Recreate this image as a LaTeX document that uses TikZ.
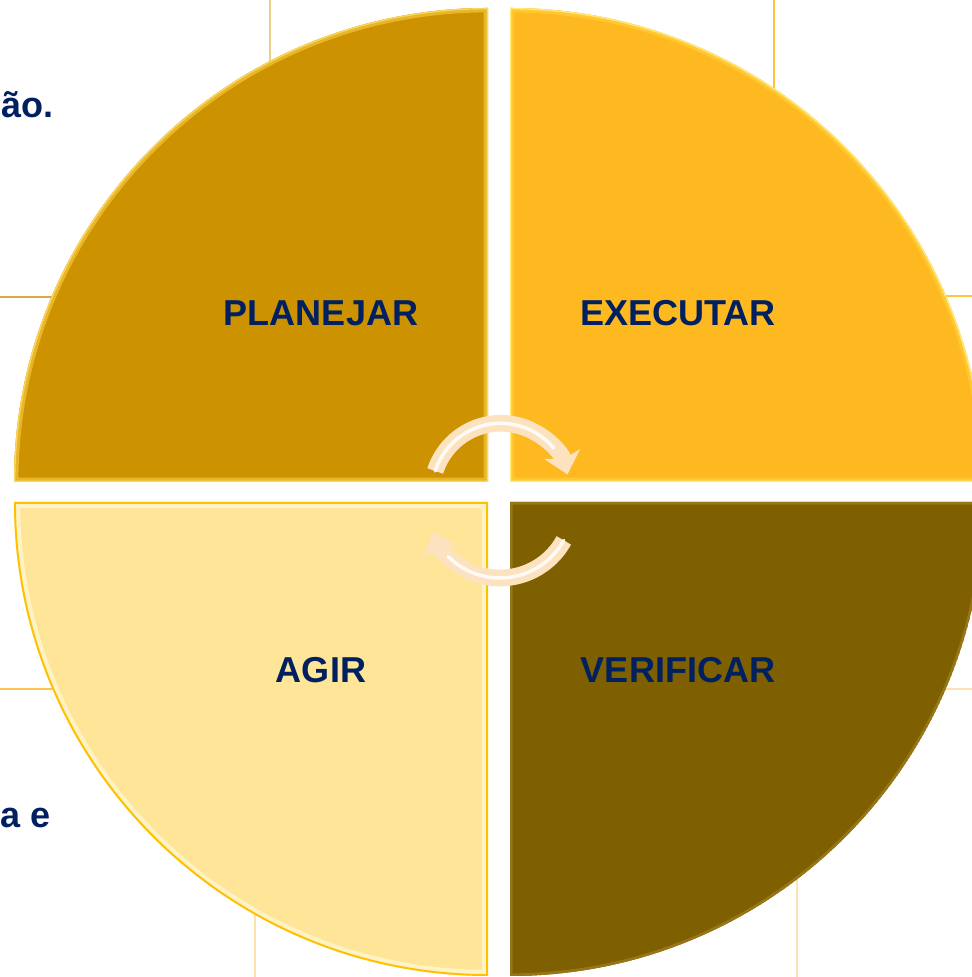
\documentclass[tikz,border=0pt]{standalone}
\usepackage{fontspec}
\setmainfont{Liberation Sans}
\usetikzlibrary{arrows.meta}
\definecolor{navy}{RGB}{0,32,96}
\definecolor{gold}{RGB}{204,146,0}
\definecolor{amber}{RGB}{253,185,31}
\definecolor{cream}{RGB}{254,229,152}
\definecolor{olive}{RGB}{127,96,0}
\definecolor{arrowc}{RGB}{252,226,190}
\tikzstyle{lbl}=[inner sep=0pt,font=\fontsize{20.5}{24}\selectfont\bfseries,text=navy]
\tikzstyle{tline}=[line width=1.1pt]
\tikzstyle{cyc}=[-{Stealth[length=12pt,width=21pt,inset=3pt]},line width=9.5pt,color=arrowc]
\tikzstyle{shine}=[line width=2pt,white,opacity=0.85,line cap=round]

\begin{document}
\begin{tikzpicture}[x=0.02cm,y=0.02cm]
  \useasboundingbox (0,0) rectangle (972,977);
  \clip (0,0) rectangle (972,977);
  \fill[white] (0,0) rectangle (972,977);

  % table lines behind the circle
  \draw[tline,color={rgb,255:red,230;green,210;blue,140}] (270,977)--(270,880);
  \draw[tline,color={rgb,255:red,215;green,170;blue,70}] (0,680)--(220,680);
  \draw[tline,color={rgb,255:red,255;green,195;blue,80}] (0,288)--(80,288);
  \draw[tline,color={rgb,255:red,255;green,225;blue,170}] (255,0)--(255,90);
  \draw[tline,color={rgb,255:red,255;green,195;blue,60}] (774,977)--(774,860);
  \draw[tline,color={rgb,255:red,255;green,195;blue,60}] (900,681)--(972,681);
  \draw[tline,color={rgb,255:red,255;green,225;blue,180}] (900,288)--(972,288);
  \draw[tline,color={rgb,255:red,255;green,225;blue,180}] (797,0)--(797,120);

  % quadrants
  \begin{scope}
    \clip (488,495)--(14,495) arc (180:90:474)--cycle;
    \fill[gold] (488,495)--(14,495) arc (180:90:474)--cycle;
    \draw[line width=5pt,color={rgb,255:red,232;green,182;blue,40}] (488,495)--(14,495) arc (180:90:474)--cycle;
    \draw[line width=1.6pt,color={rgb,255:red,250;green,215;blue,90}] (488,495)--(14,495) arc (180:90:474)--cycle;
  \end{scope}
  \begin{scope}
    \clip (510,495)--(510,969) arc (90:0:474)--cycle;
    \fill[amber] (510,495)--(510,969) arc (90:0:474)--cycle;
    \draw[line width=5pt,color={rgb,255:red,255;green,200;blue,50}] (510,495)--(510,969) arc (90:0:474)--cycle;
    \draw[line width=1.6pt,color={rgb,255:red,255;green,232;blue,120}] (510,495)--(510,969) arc (90:0:474)--cycle;
  \end{scope}
  \begin{scope}
    \clip (488,475)--(14,475) arc (180:270:474)--cycle;
    \fill[cream] (488,475)--(14,475) arc (180:270:474)--cycle;
    \draw[line width=7pt,color={rgb,255:red,255;green,242;blue,196}] (488,475)--(14,475) arc (180:270:474)--cycle;
    \draw[line width=2.2pt,color={rgb,255:red,255;green,192;blue,0}] (488,475)--(14,475) arc (180:270:474)--cycle;
  \end{scope}
  \begin{scope}
    \clip (510,475)--(984,475) arc (0:-90:474)--cycle;
    \fill[olive] (510,475)--(984,475) arc (0:-90:474)--cycle;
    \draw[line width=3pt,color={rgb,255:red,150;green,118;blue,22}] (510,475)--(984,475) arc (0:-90:474)--cycle;
  \end{scope}

  % labels
  \node[lbl] (PL) at (321,664) {PLANEJAR};
  \node[lbl] (EX) at (678,664) {EXECUTAR};
  \node[lbl] (AG) at (321,307) {AGIR};
  \node[lbl] (VE) at (678,307) {VERIFICAR};

  % cut text at the left
  \node[lbl,anchor=base west] (F1) at (1,859) {ão.};
  \node[lbl,anchor=base west] (F2) at (0.5,149) {a e};

  % cycle arrows
  \coordinate (T0) at (435.2,506);
  \coordinate (B0) at (563.8,436.6);
  \draw[cyc] (T0) arc (162:15:69);
  \draw[shine] (T0) arc (162:40:69);
  \draw[cyc] (B0) arc (-29:-158:73);
  \draw[shine] (B0) arc (-29:-135:73);

\end{tikzpicture}
\end{document}
